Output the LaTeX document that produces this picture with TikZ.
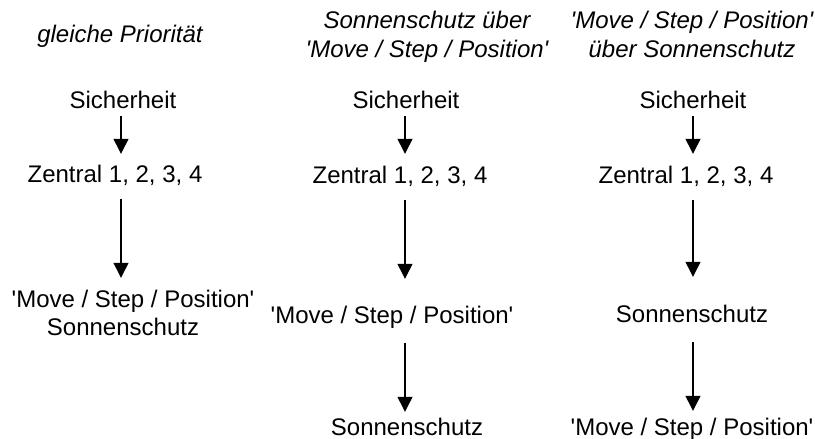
\documentclass[tikz,border=0pt]{standalone}
\usepackage{fontspec}
\setmainfont{Liberation Sans}[Ligatures=TeXOff]
\usetikzlibrary{arrows.meta}
\begin{document}
\begin{tikzpicture}[x=1pt,y=-1pt,
  lbl/.style={inner sep=0pt, anchor=base, font=\fontsize{24}{29}\selectfont, text height=17pt, text depth=0pt},
  ttl/.style={lbl, font=\fontsize{24}{29}\selectfont\itshape},
  arr/.style={line width=1.3pt, -{Triangle[width=15pt,length=15pt]}}]
\useasboundingbox (0,0) rectangle (815,439);
% column axes
\coordinate (c1) at (121,0);
\coordinate (c2) at (405,0);
\coordinate (c3) at (693,0);
% titles
\node[ttl] (t1)  at (120,42) {gleiche Priorität};
\node[ttl] (t2a) at (427,28) {Sonnenschutz über};
\node[ttl] (t2b) at (427,57) {'Move / Step / Position'};
\node[ttl] (t3a) at (692,28) {'Move / Step / Position'};
\node[ttl] (t3b) at (692,57) {über Sonnenschutz};
% column 1
\node[lbl] (s1) at (123,108) {Sicherheit};
\node[lbl] (z1) at (115,182) {Zentral 1, 2, 3, 4};
\node[lbl] (m1) at (133,307) {'Move / Step / Position'};
\node[lbl] (o1) at (123,335) {Sonnenschutz};
% column 2
\node[lbl] (s2) at (406,108) {Sicherheit};
\node[lbl] (z2) at (400,183) {Zentral 1, 2, 3, 4};
\node[lbl] (m2) at (392,323) {'Move / Step / Position'};
\node[lbl] (o2) at (407,435) {Sonnenschutz};
% column 3
\node[lbl] (s3) at (693,108) {Sicherheit};
\node[lbl] (z3) at (686,183) {Zentral 1, 2, 3, 4};
\node[lbl] (o3) at (692,322) {Sonnenschutz};
\node[lbl] (m3) at (692,435) {'Move / Step / Position'};
% arrows
\draw[arr, shorten <=8pt, shorten >=11pt] (c1 |- s1.south) -- (c1 |- z1.north);
\draw[arr, shorten <=17pt, shorten >=12pt] (c1 |- z1.south) -- (c1 |- m1.north);
\draw[arr, shorten <=8pt, shorten >=12pt] (c2 |- s2.south) -- (c2 |- z2.north);
\draw[arr, shorten <=17pt, shorten >=27pt] (c2 |- z2.south) -- (c2 |- m2.north);
\draw[arr, shorten <=20pt, shorten >=6pt] (c2 |- m2.south) -- (c2 |- o2.north);
\draw[arr, shorten <=8pt, shorten >=12pt] (c3 |- s3.south) -- (c3 |- z3.north);
\draw[arr, shorten <=17pt, shorten >=28pt] (c3 |- z3.south) -- (c3 |- o3.north);
\draw[arr, shorten <=20pt, shorten >=7pt] (c3 |- o3.south) -- (c3 |- m3.north);
\end{tikzpicture}
\end{document}
